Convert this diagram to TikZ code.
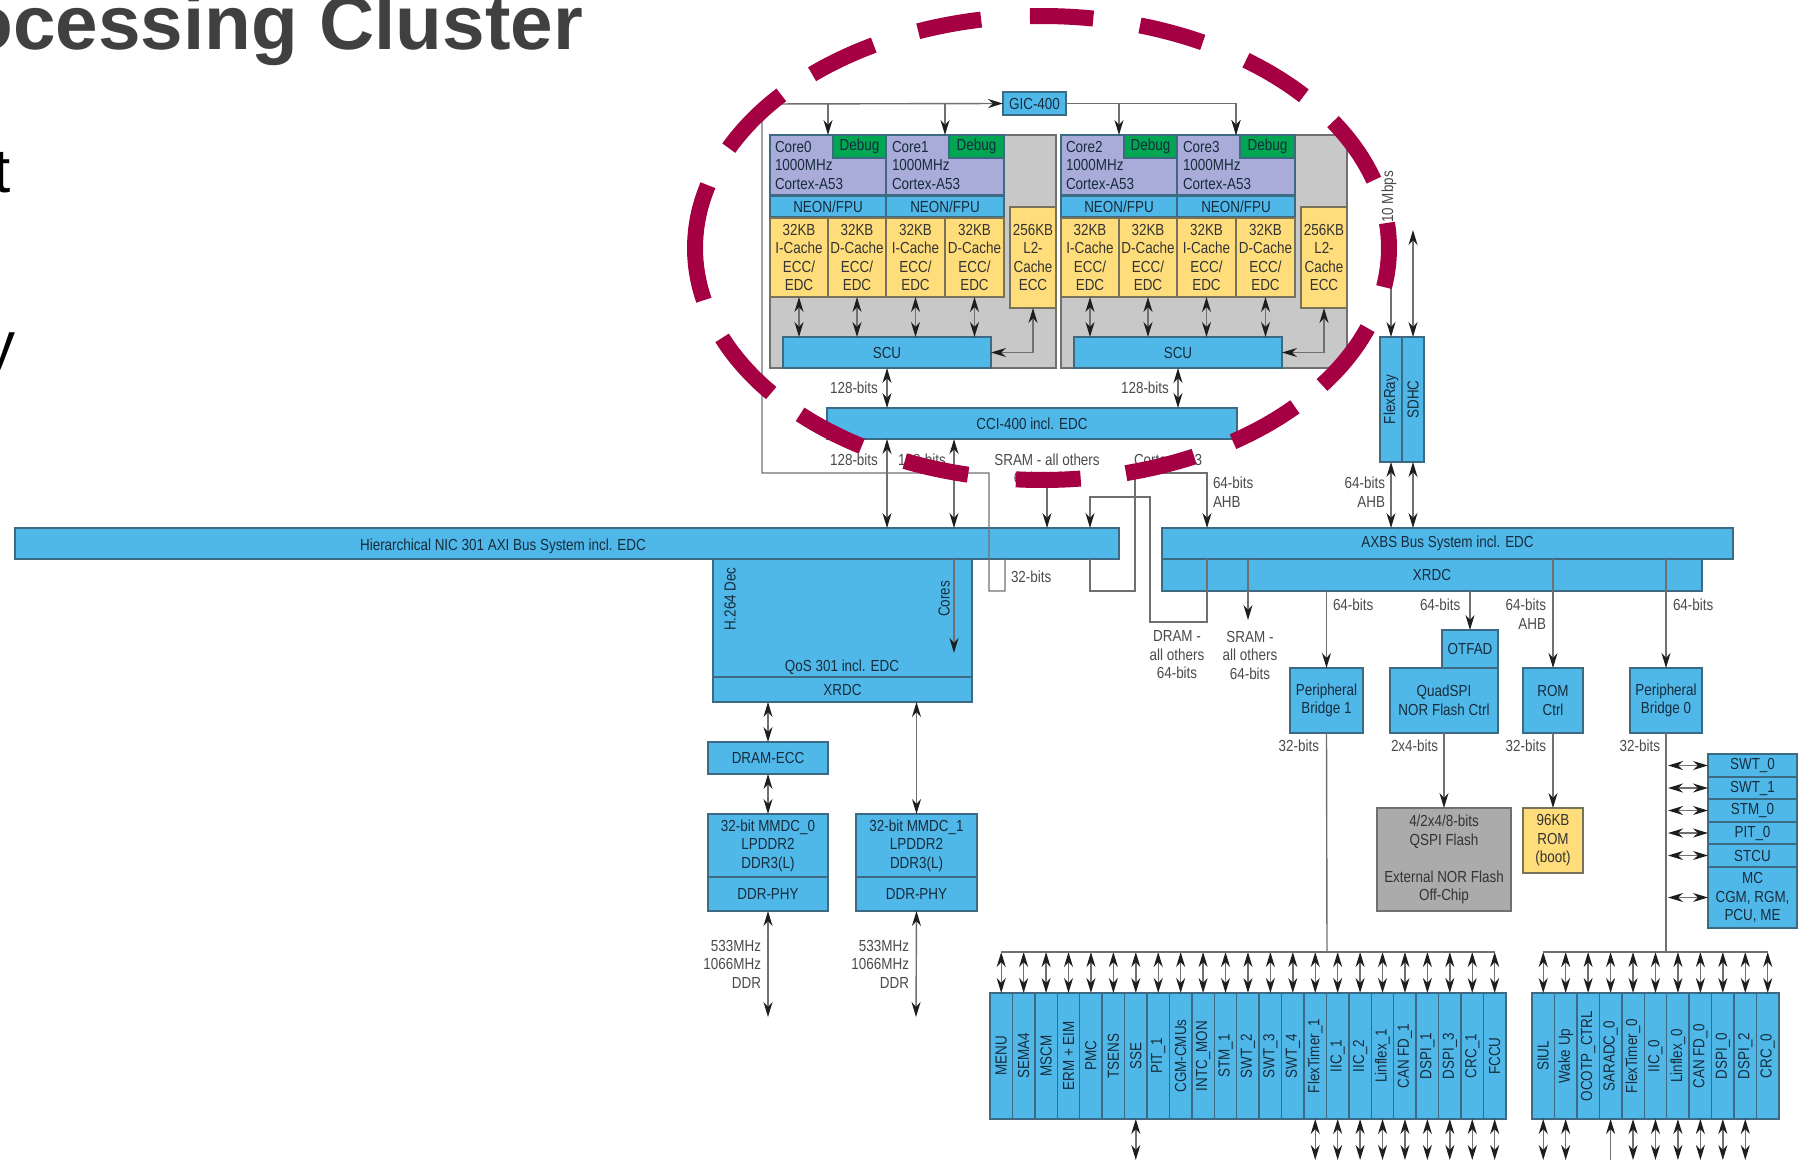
\documentclass[tikz,border=0pt]{standalone}
\usepackage{fontspec}
\setmainfont{Liberation Sans}
\newfontfamily\boxfont[FakeStretch=0.84]{Liberation Sans}
\usetikzlibrary{arrows.meta}
\definecolor{blockblue}{HTML}{50B8E9}
\definecolor{blockedge}{HTML}{3B6A82}
\definecolor{corepurple}{HTML}{A9ABD8}
\definecolor{debuggreen}{HTML}{00A651}
\definecolor{cacheyellow}{HTML}{FFDD7A}
\definecolor{cacheedge}{HTML}{77725A}
\definecolor{clustergrey}{HTML}{C8C8C8}
\definecolor{flashgrey}{HTML}{ABABAB}
\definecolor{wireline}{HTML}{707070}
\definecolor{tipdark}{HTML}{1E1E1E}
\definecolor{ringred}{HTML}{A50044}
\definecolor{titlegrey}{HTML}{404040}
\definecolor{boxtext}{HTML}{162C3C}
\definecolor{labeltext}{HTML}{4A4A4A}
\begin{document}
\begin{tikzpicture}[
	x=1pt, y=-1pt,
	>={Stealth[length=15pt,width=9pt,color=tipdark]},
	every node/.style={font=\boxfont\fontsize{16}{18.5}\selectfont, align=center, inner sep=0pt, outer sep=0pt},
	block node/.style={draw=blockedge, line width=1.4pt, fill=blockblue, text=boxtext},
	core node/.style={draw=blockedge, line width=1.4pt, fill=corepurple, text=boxtext, align=left, text width=106pt},
	debug node/.style={draw=blockedge, line width=1.4pt, fill=debuggreen, text=boxtext},
	cache node/.style={draw=cacheedge, line width=1.4pt, fill=cacheyellow, text=black!80},
	cluster node/.style={draw=wireline, line width=1.4pt, fill=clustergrey},
	flash node/.style={draw=wireline, line width=1.4pt, fill=flashgrey, text=black!80},
	bit label/.style={text=labeltext},
	wire/.style={draw=wireline, line width=1.4pt},
	ring dash/.style={draw=ringred, line width=16pt, line cap=butt}
	]
	\newcommand{\boxat}[7]{
		\node[#1, minimum width={(#5-#3)*1pt}, minimum height={(#6-#4)*1pt}] (#2) at ({(#3+#5)/2},{(#4+#6)/2}) {#7};
	}
	\newcommand{\vboxat}[7]{
		\node[#1, rotate=90, minimum width={(#6-#4)*1pt}, minimum height={(#5-#3)*1pt}] (#2) at ({(#3+#5)/2},{(#4+#6)/2}) {#7};
	}
	\newcommand{\drawcluster}[3]{
		\boxat{cluster node}{cluster#3}{770}{135}{1056}{368}{}
		\boxat{core node}{core#1}{770}{135}{886}{195}{Core#1\\1000MHz\\Cortex-A53}
		\boxat{core node}{core#2}{886}{135}{1004}{195}{Core#2\\1000MHz\\Cortex-A53}
		\boxat{debug node}{debug#1}{833}{135}{886}{158}{Debug}
		\boxat{debug node}{debug#2}{949}{135}{1004}{158}{Debug}
		\boxat{block node}{neon#1}{770}{196}{886}{217}{NEON/FPU}
		\boxat{block node}{neon#2}{886}{196}{1004}{217}{NEON/FPU}
		\boxat{cache node}{icache#1}{770}{218}{828}{297}{32KB\\I-Cache\\ECC/\\EDC}
		\boxat{cache node}{dcache#1}{828}{218}{886}{297}{32KB\\D-Cache\\ECC/\\EDC}
		\boxat{cache node}{icache#2}{886}{218}{945}{297}{32KB\\I-Cache\\ECC/\\EDC}
		\boxat{cache node}{dcache#2}{945}{218}{1004}{297}{32KB\\D-Cache\\ECC/\\EDC}
		\boxat{cache node}{ltwo#3}{1010}{207}{1056}{308}{256KB\\L2-\\Cache\\ECC}
		\boxat{block node}{scu#3}{783}{337}{991}{368}{SCU}
		\node[bit label] (bits#3) at (854,388) {128-bits};
		\foreach \cpart in {icache#1, dcache#1, icache#2, dcache#2}
			\draw[wire, <->] (\cpart.south) -- (scu#3.north -| \cpart.south);
		\draw[wire, <->] (scu#3.east) -| (ltwo#3.south);
		\draw[wire, <->] (scu#3.south) -- (cci.north -| scu#3.south);
		\draw[wire, ->] (gic.west -| core#1.north) -- (core#1.north);
		\draw[wire, ->] (gic.west -| core#2.north) -- (core#2.north);
	}

	\useasboundingbox (0,0) rectangle (1808,1165);
	\clip (0,0) rectangle (1808,1165);

	% slide text cut by the crop
	\node[font=\fontsize{76.5}{76.5}\bfseries\selectfont, text=titlegrey, anchor=base east] (slidetitle) at (583,49) {ocessing Cluster};
	\node[font=\fontsize{62}{62}\selectfont, anchor=base east] (cutT) at (11,192) {t};
	\node[font=\fontsize{62}{62}\selectfont, anchor=base east] (cutY) at (16,365) {y};

	\boxat{block node}{gic}{1003}{92}{1066}{115}{GIC-400}
	\boxat{block node}{cci}{827}{408}{1237}{439}{CCI-400 incl. EDC}
	\drawcluster{0}{1}{A}
	\begin{scope}[xshift=291pt]
		\drawcluster{2}{3}{B}
	\end{scope}

	% buses
	\boxat{block node}{nic}{15}{528}{1119}{559}{}
	\node[text=boxtext] (niclabel) at (503,546) {Hierarchical NIC 301 AXI Bus System incl. EDC};
	\boxat{block node}{xrdcB}{1162}{559}{1702}{591}{\raisebox{-1pt}{XRDC}}
	\boxat{block node}{axbs}{1162}{528}{1733}{559}{\raisebox{-2pt}{AXBS Bus System incl. EDC}}
	\boxat{block node}{qos}{713}{559}{972}{677}{}
	\boxat{block node}{xrdcQ}{713}{677}{972}{702}{XRDC}
	\node[text=boxtext] (qoslabel) at (842,667) {QoS 301 incl. EDC};
	\node[text=boxtext, rotate=90] (h264label) at (730,599) {H.264 Dec};
	\node[text=boxtext, rotate=90] (coreslabel) at (944,599) {Cores};
	\vboxat{block node}{flexray}{1380}{337}{1402}{462}{FlexRay}
	\vboxat{block node}{sdhc}{1402}{337}{1424}{462}{SDHC}

	% DDR side
	\boxat{block node}{dramecc}{708}{742}{828}{774}{DRAM-ECC}
	\boxat{block node}{mmdcA}{708}{814}{828}{877}{32-bit MMDC\_0\\LPDDR2\\DDR3(L)}
	\boxat{block node}{phyA}{708}{877}{828}{911}{DDR-PHY}
	\boxat{block node}{mmdcB}{856}{814}{977}{877}{32-bit MMDC\_1\\LPDDR2\\DDR3(L)}
	\boxat{block node}{phyB}{856}{877}{977}{911}{DDR-PHY}

	% AXBS slaves
	\boxat{block node}{bridgeB}{1290}{668}{1363}{733}{Peripheral\\Bridge 1}
	\boxat{block node}{otfad}{1442}{630}{1498}{668}{OTFAD}
	\boxat{block node}{quadspi}{1390}{668}{1498}{733}{QuadSPI\\NOR Flash Ctrl}
	\boxat{block node}{romctrl}{1523}{668}{1583}{733}{ROM\\Ctrl}
	\boxat{block node}{bridgeA}{1630}{668}{1702}{733}{Peripheral\\Bridge 0}
	\boxat{flash node}{qspiflash}{1377}{808}{1511}{911}{4/2x4/8-bits\\QSPI Flash\\ \\External NOR Flash\\Off-Chip}
	\boxat{cache node}{bootrom}{1523}{808}{1583}{873}{96KB\\ROM\\(boot)}

	% side stack
	\coordinate (railR) at (1668,0);
	\foreach \sname/\ya/\yb/\stext in {swtA/754/777/SWT\_0, swtB/777/799/SWT\_1, stmA/799/822/STM\_0, pitA/822/844/PIT\_0, stcu/844/867/STCU}{
		\boxat{block node}{\sname}{1708}{\ya}{1797}{\yb}{\stext}
		\draw[wire, <->] (railR |- \sname.west) -- (\sname.west);
	}
	\boxat{block node}{mcblock}{1708}{867}{1797}{928}{MC\\CGM, RGM,\\PCU, ME}
	\draw[wire, <->] (railR |- mcblock.west) -- (mcblock.west);

	% peripheral rows
	\coordinate (busL) at (1327,952);
	\coordinate (freeL) at (0,1160);
	\coordinate (busR) at (1666,952);
	\foreach \plabel [count=\idx from 0] in {MENU, SEMA4, MSCM, ERM + EIM, PMC, TSENS, SSE, PIT\_1, CGM-CMUs, INTC\_MON, STM\_1, SWT\_2, SWT\_3, SWT\_4, FlexTimer\_1, IIC\_1, IIC\_2, Linflex\_1, CAN FD\_1, DSPI\_1, DSPI\_3, CRC\_1, FCCU}{
		\pgfmathsetmacro{\xa}{990+22.43*\idx}
		\pgfmathsetmacro{\xb}{\xa+22.43}
		\vboxat{block node}{cellL\idx}{\xa}{993}{\xb}{1119}{\plabel}
		\draw[wire, <->] (busL -| cellL\idx.east) -- (cellL\idx.east);
	}
	\foreach \plabel [count=\idx from 0] in {SIUL, Wake Up, OCOTP\_CTRL, SARADC\_0, FlexTimer\_0, IIC\_0, Linflex\_0, CAN FD\_0, DSPI\_0, DSPI\_2, CRC\_0}{
		\pgfmathsetmacro{\xa}{1532+22.45*\idx}
		\pgfmathsetmacro{\xb}{\xa+22.45}
		\vboxat{block node}{cellR\idx}{\xa}{993}{\xb}{1119}{\plabel}
		\draw[wire, <->] (busR -| cellR\idx.east) -- (cellR\idx.east);
	}
	\draw[wire] (busL -| cellL0.east) -- (busL -| cellL22.east);
	\draw[wire] (busR -| cellR0.east) -- (busR -| cellR10.east);
	\foreach \idx in {6,14,15,16,17,18,19,20,21,22}
		\draw[wire, <->] (cellL\idx.west) -- (cellL\idx.west |- freeL);
	\foreach \idx in {0,1,4,5,6,7,8,9}
		\draw[wire, <->] (cellR\idx.west) -- (cellR\idx.west |- freeL);
	\draw[wire, <-] (cellR3.west) -- (cellR3.west |- freeL);

	% wires around the buses
	\coordinate (tapA) at (887,528);
	\coordinate (tapB) at (954,528);
	\coordinate (tapC) at (1047,528);
	\coordinate (tapD) at (1090,528);
	\coordinate (tapE) at (1207,528);
	\coordinate (tapF) at (1391,528);
	\coordinate (tapG) at (1413,528);
	\coordinate (tapH) at (1005,559);
	\coordinate (tapI) at (1090,559);
	\coordinate (tapJ) at (1207,559);
	\coordinate (tapK) at (954,653);
	\coordinate (tapL) at (1248,620);
	\coordinate (srcC) at (1047,478);
	\coordinate (srcF) at (1391,223);
	\coordinate (srcG) at (1413,230);
	\draw[wire, <->] (cci.south -| tapA) -- (tapA);
	\draw[wire, <->] (cci.south -| tapB) -- (tapB);
	\draw[wire, ->] (srcC) -- (tapC);
	\draw[wire, ->] (tapH) -- (1005,591) -- (989,591) -- (989,473) -- (762,473) -- (762,104) -- (gic.west);
	\draw[wire, ->] (gic.east) -| (core3.north);
	\draw[wire, ->] (tapI) -- (1090,591) -- (1135,591) -- (1135,473) -- (1207,473) -- (tapE);
	\draw[wire, ->] (tapJ) -- (1207,622) -- (1150,622) -- (1150,497) -- (1090,497) -- (tapD);
	\draw[wire, ->] (nic.south -| tapK) -- (tapK);
	\draw[wire, ->] (axbs.south -| tapL) -- (tapL);
	\draw[wire, ->] (srcF) -- (flexray.east);
	\draw[wire, <->] (srcG) -- (sdhc.east);
	\draw[wire, <->] (flexray.west) -- (tapF);
	\draw[wire, <->] (sdhc.west) -- (tapG);
	\draw[wire, ->] (xrdcB.south -| bridgeB.north) -- (bridgeB.north);
	\draw[wire, ->] (xrdcB.south -| otfad.north) -- (otfad.north);
	\draw[wire, ->] (axbs.south -| romctrl.north) -- (romctrl.north);
	\draw[wire, ->] (axbs.south -| bridgeA.north) -- (bridgeA.north);
	\draw[wire, ->] (quadspi.south) -- (qspiflash.north);
	\draw[wire, ->] (romctrl.south) -- (bootrom.north);
	\draw[wire] (bridgeB.south) -- (busL);
	\draw[wire] (bridgeA.south) -- (busR);

	% memory wires
	\coordinate (ddrfreeA) at (768,1017);
	\coordinate (ddrfreeB) at (916,1017);
	\draw[wire, <->] (xrdcQ.south -| dramecc.north) -- (dramecc.north);
	\draw[wire, <->] (dramecc.south) -- (mmdcA.north);
	\draw[wire, <->] (xrdcQ.south -| mmdcB.north) -- (mmdcB.north);
	\draw[wire, <->] (phyA.south) -- (ddrfreeA);
	\draw[wire, <->] (phyB.south) -- (ddrfreeB);

	% labels
	\node[bit label, anchor=west] (lab32) at (1011,577) {32-bits};
	\node[bit label] (lab128A) at (854,460) {128-bits};
	\node[bit label] (lab128B) at (922,460) {128-bits};
	\node[bit label] (labsram) at (1047,469) {SRAM - all others\\64/128-bits};
	\node[bit label] (labcortex) at (1168,460) {Cortex-A53};
	\node[bit label, anchor=west, align=left] (labahbA) at (1213,492) {64-bits\\AHB};
	\node[bit label, anchor=east, align=right] (labahbB) at (1385,492) {64-bits\\AHB};
	\node[bit label, rotate=90] (labmbps) at (1389,197) {10 Mbps};
	\node[bit label] (labdram) at (1177,655) {DRAM -\\all others\\64-bits};
	\node[bit label] (labsrama) at (1250,655) {SRAM -\\all others\\64-bits};
	\node[bit label, anchor=west] (labbrB) at (1333,605) {64-bits};
	\node[bit label, anchor=west] (labotf) at (1420,605) {64-bits};
	\node[bit label, anchor=east, align=right] (labrom) at (1546,614) {64-bits\\AHB};
	\node[bit label, anchor=west] (labbrA) at (1673,605) {64-bits};
	\node[bit label, anchor=east] (lab32B) at (1319,746) {32-bits};
	\node[bit label, anchor=west] (lab2x4) at (1391,746) {2x4-bits};
	\node[bit label, anchor=east] (lab32C) at (1546,746) {32-bits};
	\node[bit label, anchor=east] (lab32D) at (1660,746) {32-bits};
	\node[bit label, anchor=east, align=right] (labddrA) at (761,964) {533MHz\\1066MHz\\DDR};
	\node[bit label, anchor=east, align=right] (labddrB) at (909,964) {533MHz\\1066MHz\\DDR};

	% ring over the cores
	\foreach \ta/\tb in {81.5/92, 62.4/73.6, 41/54, 17/33, -9.7/6.2, -36.2/-20.2, -56.6/-43.2, -76/-64, -94.3/-83.6, -113.3/-102.3, -134.2/-121.3, 202.8/218.7, 164.3/193, 138.7/154.5, 119/131.5, 100.1/110.9}
		\draw[ring dash] plot[domain=\ta:\tb, samples=14, smooth] ({1042+347*cos(\x)},{248-232*sin(\x)});
\end{tikzpicture}
\end{document}
